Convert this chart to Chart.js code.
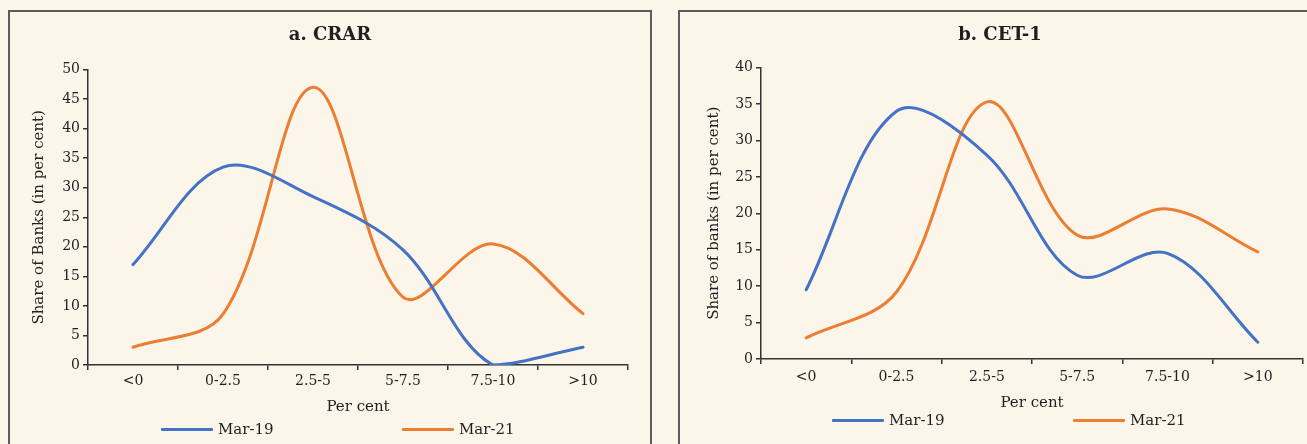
<!DOCTYPE html>
<html>
<head>
<meta charset="utf-8">
<script src="https://cdn.jsdelivr.net/npm/chart.js@4/dist/chart.umd.min.js"></script>
<style>
  html, body { margin: 0; padding: 0; background: #fbf5ea; width: 1307px; height: 444px; overflow: hidden; }
  .panel { position: absolute; top: 10px; width: 644px; height: 460px; box-sizing: border-box;
           border: 2px solid #5c5c5c; background: #fbf5ea; }
  #p1 { left: 8px; }
  #p2 { left: 678px; }
  .panel canvas { position: absolute; left: 0; top: 0; }
  .legend { position: absolute; display: flex; font-family: "DejaVu Serif", serif; font-size: 15px; color: #231f20; }
  .legend .item { display: flex; align-items: center; width: 241px; }
  .legend .swatch { width: 52px; height: 3px; margin-right: 5px; border-radius: 1px; }
</style>
</head>
<body>
<div class="panel" id="p1"><canvas id="crarChart"></canvas><div class="legend" id="legend1"></div></div>
<div class="panel" id="p2"><canvas id="cet1Chart"></canvas><div class="legend" id="legend2"></div></div>

<script>
// Chart data
const categories = ['<0', '0-2.5', '2.5-5', '5-7.5', '7.5-10', '>10'];
const seriesNames = ['Mar-19', 'Mar-21'];
const crarMar19 = [17, 33.5, 28.5, 19.5, 0, 3];
const crarMar21 = [3, 8.6, 47, 11.5, 20.5, 8.7];
const cet1Mar19 = [9.5, 34, 28, 11.5, 14.5, 2.3];
const cet1Mar21 = [2.9, 9.2, 35.3, 17, 20.6, 14.7];
const crarTicks = [0, 5, 10, 15, 20, 25, 30, 35, 40, 45, 50];
const cet1Ticks = [0, 5, 10, 15, 20, 25, 30, 35, 40];

const blue = '#4472c4';
const orange = '#ed7d31';
const ink = '#231f20';
const fontFamily = '"DejaVu Serif", serif';

// centre the title over the whole panel, not just the padded area
const fullWidthTitle = {
    id: 'fullWidthTitle',
    afterLayout: function(chart) {
        const t = chart.titleBlock;
        if (!t) return;
        t.left = 0;
        t.right = chart.width;
        t.width = chart.width;
    }
};

function makeDataset(label, data, color) {
    return {
        label: label,
        data: data,
        borderColor: color,
        backgroundColor: color,
        borderWidth: 3,
        pointRadius: 0,
        tension: 0.35,
        borderCapStyle: 'round',
        fill: false
    };
}

function buildChart(canvasId, cfg) {
    const canvas = document.getElementById(canvasId);
    canvas.width = 640;
    canvas.height = 410;
    return new Chart(canvas.getContext('2d'), {
        type: 'line',
        data: {
            labels: categories,
            datasets: [
                makeDataset(seriesNames[0], cfg.mar19, blue),
                makeDataset(seriesNames[1], cfg.mar21, orange)
            ]
        },
        options: {
            responsive: false,
            animation: false,
            layout: { padding: { left: 0, right: cfg.padRight, top: 0, bottom: 0 } },
            plugins: {
                legend: { display: false },
                tooltip: { enabled: false },
                title: {
                    display: true,
                    text: cfg.title,
                    color: ink,
                    font: { family: fontFamily, size: 18, weight: 'bold' },
                    padding: { top: 13, bottom: cfg.titleGap }
                }
            },
            scales: {
                x: {
                    offset: true,
                    grid: { offset: true, drawOnChartArea: false, drawTicks: true, tickLength: 5, color: '#333', lineWidth: 1.5 },
                    border: { display: true, color: '#333', width: 1.5 },
                    ticks: { color: ink, font: { family: fontFamily, size: 14 }, padding: cfg.xTickPad, maxRotation: 0, autoSkip: false },
                    title: { display: true, text: 'Per cent', color: ink, font: { family: fontFamily, size: 15 }, padding: { top: 0, bottom: cfg.xTitlePad } },
                    afterFit: function(scale) { scale.height = cfg.xHeight; }
                },
                y: {
                    min: 0,
                    max: cfg.ticks[cfg.ticks.length - 1],
                    afterBuildTicks: function(scale) { scale.ticks = cfg.ticks.map(v => ({ value: v })); },
                    grid: { drawOnChartArea: false, drawTicks: true, tickLength: 5, color: '#333', lineWidth: 1.5 },
                    border: { display: true, color: '#333', width: 1.5 },
                    ticks: { color: ink, font: { family: fontFamily, size: 14 }, padding: 3 },
                    title: { display: true, text: cfg.yTitle, color: ink, font: { family: fontFamily, size: 15 }, padding: { top: cfg.yTitlePad, bottom: 0 } },
                    afterFit: function(scale) { scale.width = cfg.yWidth; }
                }
            }
        },
        plugins: [fullWidthTitle]
    });
}

function buildLegend(chart, legendId, left, top) {
    const box = document.getElementById(legendId);
    box.style.left = left + 'px';
    box.style.top = top + 'px';
    chart.data.datasets.forEach(function(ds) {
        const item = document.createElement('div');
        item.className = 'item';
        const sw = document.createElement('span');
        sw.className = 'swatch';
        sw.style.background = ds.borderColor;
        const txt = document.createElement('span');
        txt.textContent = ds.label;
        item.appendChild(sw);
        item.appendChild(txt);
        box.appendChild(item);
    });
}

const crarChart = buildChart('crarChart', {
    title: 'a. CRAR', mar19: crarMar19, mar21: crarMar21, ticks: crarTicks,
    yTitle: 'Share of Banks (in per cent)',
    padRight: 22, titleGap: 23, yWidth: 78, xHeight: 57, xTickPad: 3, xTitlePad: 6, yTitlePad: 20
});
const cet1Chart = buildChart('cet1Chart', {
    title: 'b. CET-1', mar19: cet1Mar19, mar21: cet1Mar21, ticks: cet1Ticks,
    yTitle: 'Share of banks (in per cent)',
    padRight: 17, titleGap: 21, yWidth: 81, xHeight: 63, xTickPad: 5, xTitlePad: 10, yTitlePad: 25
});

buildLegend(crarChart, 'legend1', 151, 408);
buildLegend(cet1Chart, 'legend2', 152, 399);
</script>
</body>
</html>
